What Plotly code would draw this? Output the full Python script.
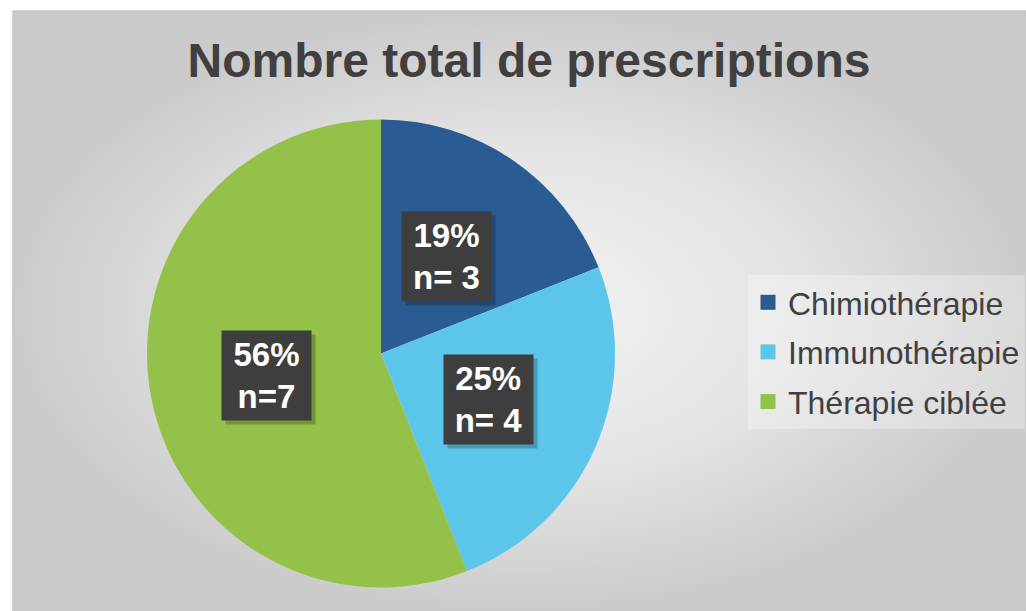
import math
import plotly.graph_objects as go

# ---- data ----
categories = ["Chimiothérapie", "Immunothérapie", "Thérapie ciblée"]
percentages = [19, 25, 56]
counts = [3, 4, 7]
count_labels = ["n= 3", "n= 4", "n=7"]
colors = ["#2A5B93", "#5BC5EA", "#93C14A"]
title_text = "Nombre total de prescriptions"

W, H = 1026, 611
FONT = "Liberation Sans, Arial, sans-serif"
cx_px, cy_px, r_px = 381, 353.5, 234

fig = go.Figure()

# chart-area background with radial gradient
fig.add_trace(go.Scatter(
    x=[13, W, W, 13, 13], y=[11, 11, H, H, 11],
    mode="lines", fill="toself",
    line=dict(color="#c6c6c6", width=1.5),
    fillgradient=dict(type="radial",
                      colorscale=[[0, "#f4f4f4"], [0.55, "#e3e3e3"], [1, "#cbcbcb"]]),
    hoverinfo="skip", showlegend=False,
))

# pie
fig.add_trace(go.Pie(
    labels=categories, values=percentages,
    marker=dict(colors=colors, line=dict(width=0)),
    sort=False, direction="clockwise", rotation=0,
    textinfo="none", hoverinfo="label+value",
    showlegend=False,
    domain=dict(x=[(cx_px - r_px) / W, (cx_px + r_px) / W],
                y=[1 - (cy_px + r_px) / H, 1 - (cy_px - r_px) / H]),
))

# legend entries
for cat, col in zip(categories, colors):
    fig.add_trace(go.Scatter(
        x=[None], y=[None], mode="markers", name=cat, legendgroup=cat,
        marker=dict(symbol="square", size=15, color=col, line=dict(width=0)),
    ))

# data labels (boxes) placed at half radius along each slice's mid angle
annotations = []
total = sum(percentages)
cum = 0
for p, nl in zip(percentages, count_labels):
    mid = (cum + p / 2) / total
    cum += p
    th = 2 * math.pi * mid
    px = cx_px + 0.5 * r_px * math.sin(th)
    py = cy_px - 0.5 * r_px * math.cos(th)
    ax, ay = px / W, 1 - py / H
    annotations.append(dict(
        x=ax, y=ay, xref="paper", yref="paper", xshift=4, yshift=-4,
        xanchor="center", yanchor="middle",
        text=" ", showarrow=False, width=89, height=89,
        bgcolor="rgba(0,0,0,0.22)", borderpad=0,
    ))
    annotations.append(dict(
        x=ax, y=ay, xref="paper", yref="paper",
        xanchor="center", yanchor="middle",
        text=f"{p}%<br>{nl}", showarrow=False, width=89, height=89,
        bgcolor="#3e3e3e", borderpad=0, align="center", valign="middle",
        font=dict(family=FONT, size=33, color="white", weight="bold"),
    ))

fig.update_layout(
    width=W, height=H,
    margin=dict(l=0, r=0, t=0, b=0),
    paper_bgcolor="white", plot_bgcolor="rgba(0,0,0,0)",
    xaxis=dict(range=[0, W], visible=False, fixedrange=True),
    yaxis=dict(range=[H, 0], visible=False, fixedrange=True),
    title=dict(text=title_text, x=529 / W, xanchor="center",
               y=1 - 60 / H, yanchor="middle",
               font=dict(family=FONT, size=48, color="#404040", weight="bold")),
    legend=dict(x=748 / W, y=1 - 275 / H, xanchor="left", yanchor="top",
                bgcolor="rgba(255,255,255,0.3)", borderwidth=0,
                font=dict(family=FONT, size=32, color="#404040"),
                tracegroupgap=5, traceorder="grouped", itemsizing="trace"),
    annotations=annotations,
    showlegend=True,
)

fig.write_html("out.html")
